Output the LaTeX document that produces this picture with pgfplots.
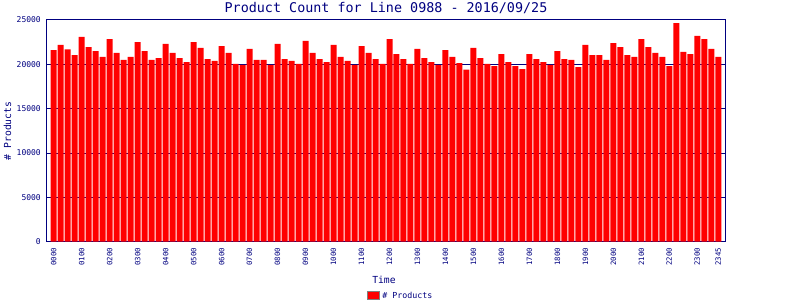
\documentclass[border=0pt]{standalone}
\usepackage{fontspec}
\setmainfont{DejaVu Sans Mono}
\usepackage{pgfplots}
\pgfplotsset{compat=1.18}
\definecolor{navy}{RGB}{0,0,128}
\begin{document}
\begin{tikzpicture}[x=1pt,y=1pt]
\path[use as bounding box] (0,0) rectangle (800,300);
\begin{axis}[
  at={(46.7pt,58.3pt)}, anchor=south west,
  scale only axis, width=678.6pt, height=221.7pt,
  ybar, bar width=6pt,
  xmin=-1, xmax=96, ymin=0, ymax=25000,
  ytick={0,5000,10000,15000,20000,25000},
  xtick={0,4,8,12,16,20,24,28,32,36,40,44,48,52,56,60,64,68,72,76,80,84,88,92,95},
  xticklabels={0000,0100,0200,0300,0400,0500,0600,0700,0800,0900,1000,1100,1200,1300,1400,1500,1600,1700,1800,1900,2000,2100,2200,2300,2345},
  /pgf/number format/assume math mode=true,
  /pgf/number format/1000 sep={},
  scaled y ticks=false,
  ymajorgrids,
  major grid style={navy, line width=1pt},
  axis line style={navy, line width=1pt},
  major tick length=0pt,
  tick style={draw=none},
  yticklabel style={font=\fontsize{8}{9}\selectfont, text=navy, inner sep=0pt, anchor=east, xshift=-5.7pt},
  every x tick label/.style={yshift=-6.3pt, rotate=90, anchor=east, font=\fontsize{7.3}{8}\selectfont, text=navy, inner sep=0pt},
  title={Product Count for Line 0988 - 2016/09/25},
  every axis title/.style={at={(axis description cs:0.5,1)}, anchor=base, yshift=7.3pt, inner sep=0pt, font=\fontsize{13.4}{14}\selectfont, text=navy},
  xlabel={Time},
  every axis x label/.style={at={(axis description cs:0.497,0)}, yshift=-41.3pt, anchor=base, inner sep=0pt, font=\fontsize{9.7}{11}\selectfont, text=navy},
  ylabel={\# Products},
  every axis y label/.style={at={(axis description cs:0,0.5)}, xshift=-39.2pt, rotate=90, anchor=center, inner sep=0pt, font=\fontsize{9.7}{11}\selectfont, text=navy},
  legend style={at={(axis description cs:0.4724,-0.2436)}, anchor=west, draw=none, fill=none, inner sep=0pt, font=\fontsize{8.3}{9}\selectfont, text=navy, legend cell align=left},
  legend image code/.code={\draw[fill=red, draw=gray, line width=1pt] (0pt,-4pt) rectangle (12pt,4pt);},
]
\addplot[fill=red, draw=none] coordinates {
(0,21600) (1,22200) (2,21700) (3,21050) (4,23100) (5,21950) (6,21500) (7,20850)
(8,22850) (9,21300) (10,20500) (11,20850) (12,22500) (13,21500) (14,20500) (15,20700)
(16,22300) (17,21300) (18,20700) (19,20250) (20,22500) (21,21850) (22,20600) (23,20400)
(24,22050) (25,21300) (26,20050) (27,19950) (28,21750) (29,20500) (30,20500) (31,19950)
(32,22300) (33,20600) (34,20400) (35,20050) (36,22650) (37,21300) (38,20600) (39,20250)
(40,22200) (41,20850) (42,20400) (43,19950) (44,22050) (45,21300) (46,20600) (47,20050)
(48,22850) (49,21150) (50,20600) (51,20050) (52,21750) (53,20700) (54,20250) (55,19950)
(56,21600) (57,20850) (58,20150) (59,19400) (60,21850) (61,20700) (62,20050) (63,19800)
(64,21150) (65,20250) (66,19800) (67,19450) (68,21150) (69,20600) (70,20250) (71,19950)
(72,21500) (73,20600) (74,20500) (75,19700) (76,22200) (77,21050) (78,21050) (79,20500)
(80,22400) (81,21950) (82,21050) (83,20850) (84,22850) (85,21950) (86,21300) (87,20850)
(88,19800) (89,24650) (90,21400) (91,21150) (92,23200) (93,22850) (94,21750) (95,20850)
};
\addlegendentry{\# Products}
\end{axis}
\end{tikzpicture}
\end{document}
